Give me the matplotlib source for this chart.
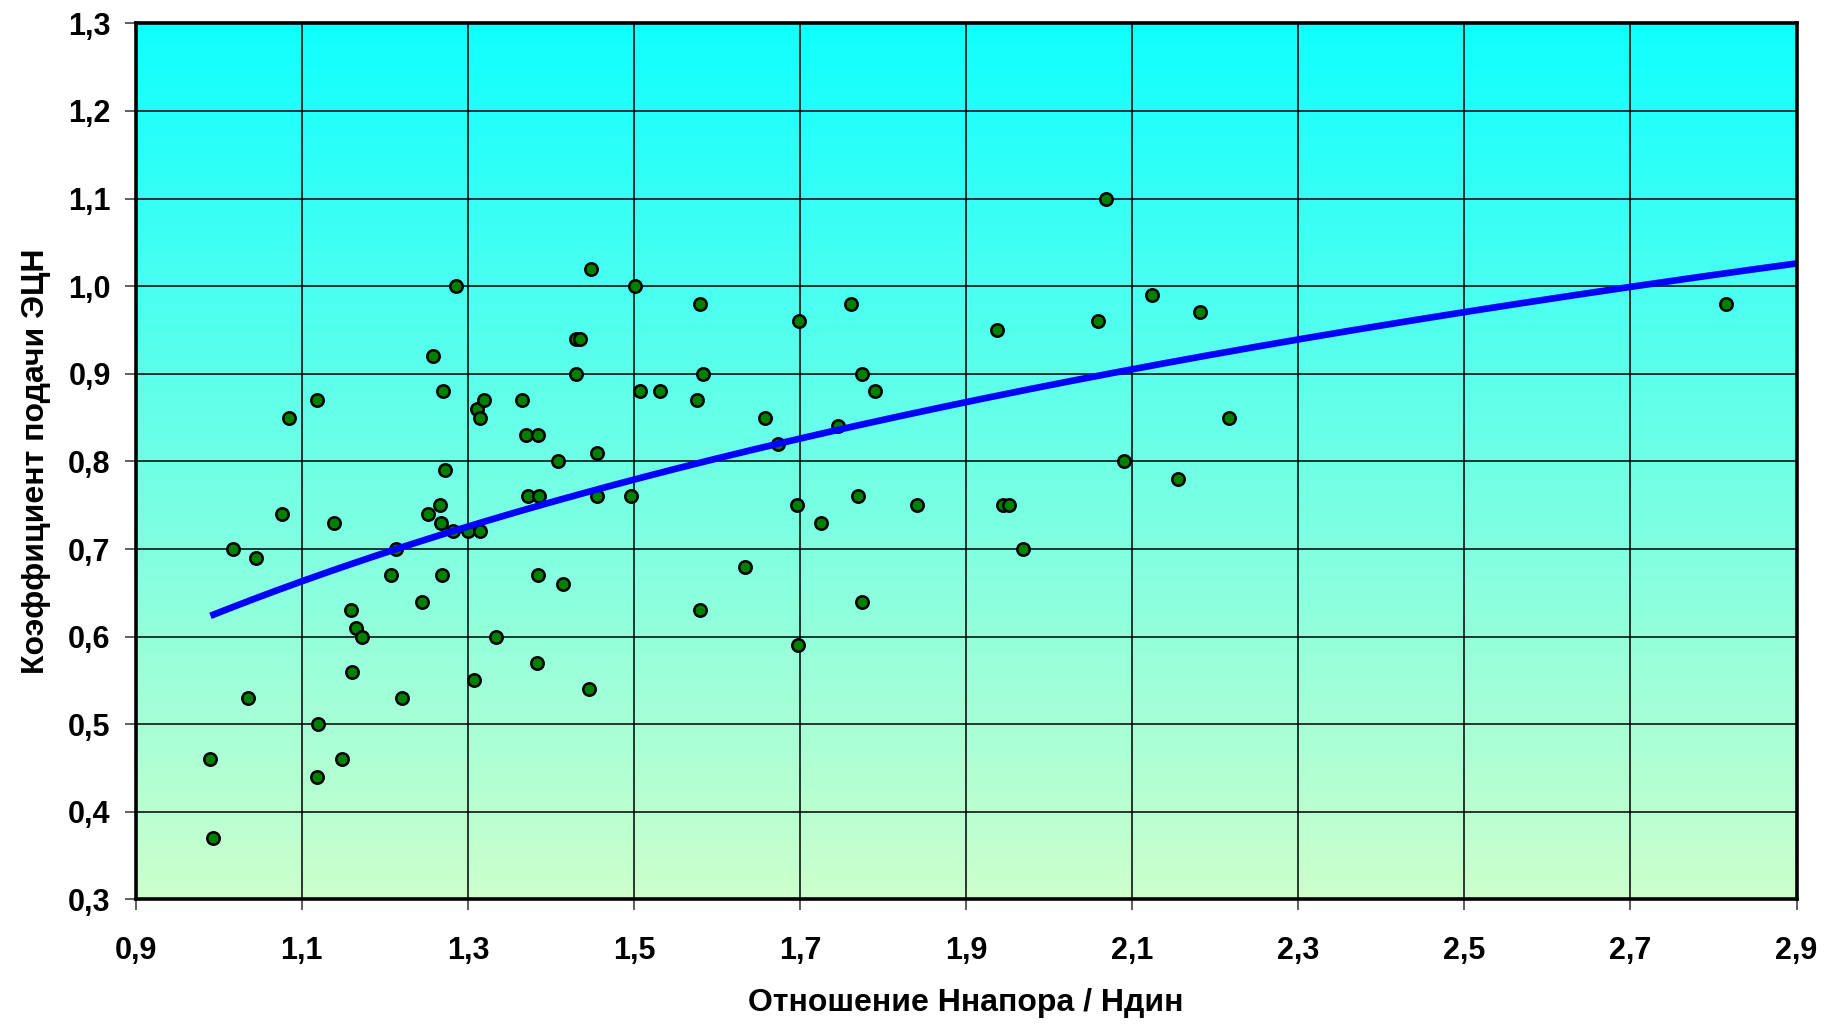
import numpy as np
import matplotlib
matplotlib.use("Agg")
import matplotlib.pyplot as plt
from matplotlib.colors import LinearSegmentedColormap
from matplotlib.ticker import FixedLocator, FuncFormatter

# ---- data ----
x_ratio = [0.990, 0.993, 1.017, 1.035, 1.045, 1.076, 1.085, 1.118, 1.120, 1.118,
           1.139, 1.149, 1.159, 1.161, 1.165, 1.172, 1.208, 1.214, 1.221, 1.245,
           1.252, 1.258, 1.266, 1.268, 1.269, 1.270, 1.273, 1.282, 1.286, 1.300,
           1.307, 1.311, 1.314, 1.314, 1.320, 1.334, 1.365, 1.370, 1.372, 1.383,
           1.385, 1.385, 1.386, 1.408, 1.415, 1.430, 1.430, 1.435, 1.446, 1.448,
           1.456, 1.456, 1.496, 1.501, 1.507, 1.531, 1.576, 1.579, 1.580, 1.583,
           1.634, 1.658, 1.673, 1.696, 1.697, 1.699, 1.725, 1.746, 1.761, 1.770,
           1.775, 1.775, 1.790, 1.841, 1.937, 1.944, 1.951, 1.969, 2.059, 2.068,
           2.090, 2.124, 2.155, 2.182, 2.217, 2.815]
k_feed = [0.46, 0.37, 0.70, 0.53, 0.69, 0.74, 0.85, 0.87, 0.50, 0.44,
          0.73, 0.46, 0.63, 0.56, 0.61, 0.60, 0.67, 0.70, 0.53, 0.64,
          0.74, 0.92, 0.75, 0.73, 0.67, 0.88, 0.79, 0.72, 1.00, 0.72,
          0.55, 0.86, 0.85, 0.72, 0.87, 0.60, 0.87, 0.83, 0.76, 0.57,
          0.83, 0.67, 0.76, 0.80, 0.66, 0.90, 0.94, 0.94, 0.54, 1.02,
          0.81, 0.76, 0.76, 1.00, 0.88, 0.88, 0.87, 0.63, 0.98, 0.90,
          0.68, 0.85, 0.82, 0.75, 0.59, 0.96, 0.73, 0.84, 0.98, 0.76,
          0.64, 0.90, 0.88, 0.75, 0.95, 0.75, 0.75, 0.70, 0.96, 1.10,
          0.80, 0.99, 0.78, 0.97, 0.85, 0.98]
x_ticks = [0.9, 1.1, 1.3, 1.5, 1.7, 1.9, 2.1, 2.3, 2.5, 2.7, 2.9]
y_ticks = [0.3, 0.4, 0.5, 0.6, 0.7, 0.8, 0.9, 1.0, 1.1, 1.2, 1.3]
x_label = "Отношение Ннапора / Ндин"
y_label = "Коэффициент подачи ЭЦН"
trend_end = 2.9

plt.rcParams['font.family'] = ['Liberation Sans', 'DejaVu Sans']
plt.rcParams['font.weight'] = 'bold'

fig = plt.figure(figsize=(18.34, 10.25), dpi=100)
ax = fig.add_axes([0.074, 0.1225, 0.9056, 0.8547])

xmin, xmax = x_ticks[0], x_ticks[-1]
ymin, ymax = y_ticks[0], y_ticks[-1]

# gradient background
cmap = LinearSegmentedColormap.from_list("bg", ["#CCFFCC", "#10FFFF"])
grad = np.linspace(0, 1, 256).reshape(-1, 1)
ax.imshow(grad, extent=[xmin, xmax, ymin, ymax], origin='lower',
          aspect='auto', cmap=cmap, zorder=0, interpolation='bicubic')

# scatter points
ax.scatter(x_ratio, k_feed, s=80, c='#008000', edgecolors='black',
           linewidths=1.8, zorder=3)

# logarithmic trend line (fit to the data)
xa = np.array(x_ratio)
ya = np.array(k_feed)
b, a = np.polyfit(np.log(xa), ya, 1)
xt = np.linspace(xa.min(), trend_end, 300)
ax.plot(xt, a + b * np.log(xt), color='#0000FF', linewidth=4.8,
        solid_capstyle='butt', zorder=4)

ax.set_xlim(xmin, xmax)
ax.set_ylim(ymin, ymax)
ax.xaxis.set_major_locator(FixedLocator(x_ticks))
ax.yaxis.set_major_locator(FixedLocator(y_ticks))
fmt = FuncFormatter(lambda v, p: f"{v:.1f}".replace('.', ','))
ax.xaxis.set_major_formatter(fmt)
ax.yaxis.set_major_formatter(fmt)

ax.grid(True, color='black', linewidth=1.1, zorder=1)
ax.set_axisbelow(False)
for s in ax.spines.values():
    s.set_linewidth(2.6)
    s.set_color('black')
    s.set_zorder(5)

ax.tick_params(axis='both', direction='out', length=8, width=1.2,
               color='#444444', labelsize=22)
ax.tick_params(axis='x', pad=18)
ax.tick_params(axis='y', pad=10)
for lab in ax.get_xticklabels() + ax.get_yticklabels():
    lab.set_fontweight('bold')

ax.set_xlabel(x_label, fontsize=23, fontweight='bold', labelpad=16)
ax.set_ylabel(y_label, fontsize=23, fontweight='bold', labelpad=12)

fig.savefig("out.png", dpi=100, facecolor='white')
